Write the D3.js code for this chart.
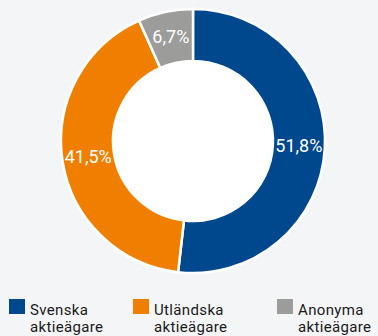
<!DOCTYPE html>
<html><head><meta charset="utf-8">
<script src="https://cdn.jsdelivr.net/npm/d3@7"></script>
<style>
html,body{margin:0;padding:0;background:#f4f5f7;}
svg{display:block;}
</style></head>
<body>
<svg id="chart" width="378" height="336"></svg>
<script>
// Ownership shares
const categories = ["Svenska aktieägare", "Utländska aktieägare", "Anonyma aktieägare"];
const values = [51.8, 41.5, 6.7];
const valueLabels = ["51,8%", "41,5%", "6,7%"];
const colors = ["#00488e", "#f07f00", "#9c9c9b"];

const svg = d3.select("#chart");
const cx = 193, cy = 141, outerR = 132, innerR = 80;

const pie = d3.pie().sort(null).value(d => d.v);
const arcs = pie(values.map((v, i) => ({v, i})));
const arc = d3.arc().innerRadius(innerR).outerRadius(outerR);

const g = svg.append("g").attr("transform", `translate(${cx},${cy})`);
g.selectAll("path").data(arcs).join("path")
  .attr("d", arc)
  .attr("fill", d => colors[d.data.i])
  .attr("stroke", "#ffffff")
  .attr("stroke-width", 2.5);

g.append("circle").attr("r", innerR).attr("fill", "#ffffff");

const labelArc = d3.arc().innerRadius((innerR + outerR) / 2).outerRadius((innerR + outerR) / 2);
g.selectAll("text.val").data(arcs).join("text")
  .attr("class", "val")
  .attr("transform", d => { const c = labelArc.centroid(d); return `translate(${c[0]},${c[1]})`; })
  .attr("text-anchor", "middle")
  .attr("dy", "0.3em")
  .attr("fill", "#ffffff")
  .attr("font-family", "Roboto, sans-serif")
  .attr("font-size", 18)
  .text(d => valueLabels[d.data.i]);

// Legend: swatch plus two-line label
const legendX = [9, 133, 277];
categories.forEach((c, i) => {
  const item = svg.append("g").attr("transform", `translate(${legendX[i]},299)`);
  item.append("rect").attr("width", 16).attr("height", 15).attr("fill", colors[i]);
  c.split(" ").forEach((w, k) => {
    item.append("text")
      .attr("x", 21)
      .attr("y", 15.5 + k * 17.7)
      .attr("font-family", "Roboto, sans-serif")
      .attr("font-size", 15)
      .attr("letter-spacing", 0.35)
      .attr("fill", "#1a1a1a")
      .text(w);
  });
});
</script>
</body></html>
